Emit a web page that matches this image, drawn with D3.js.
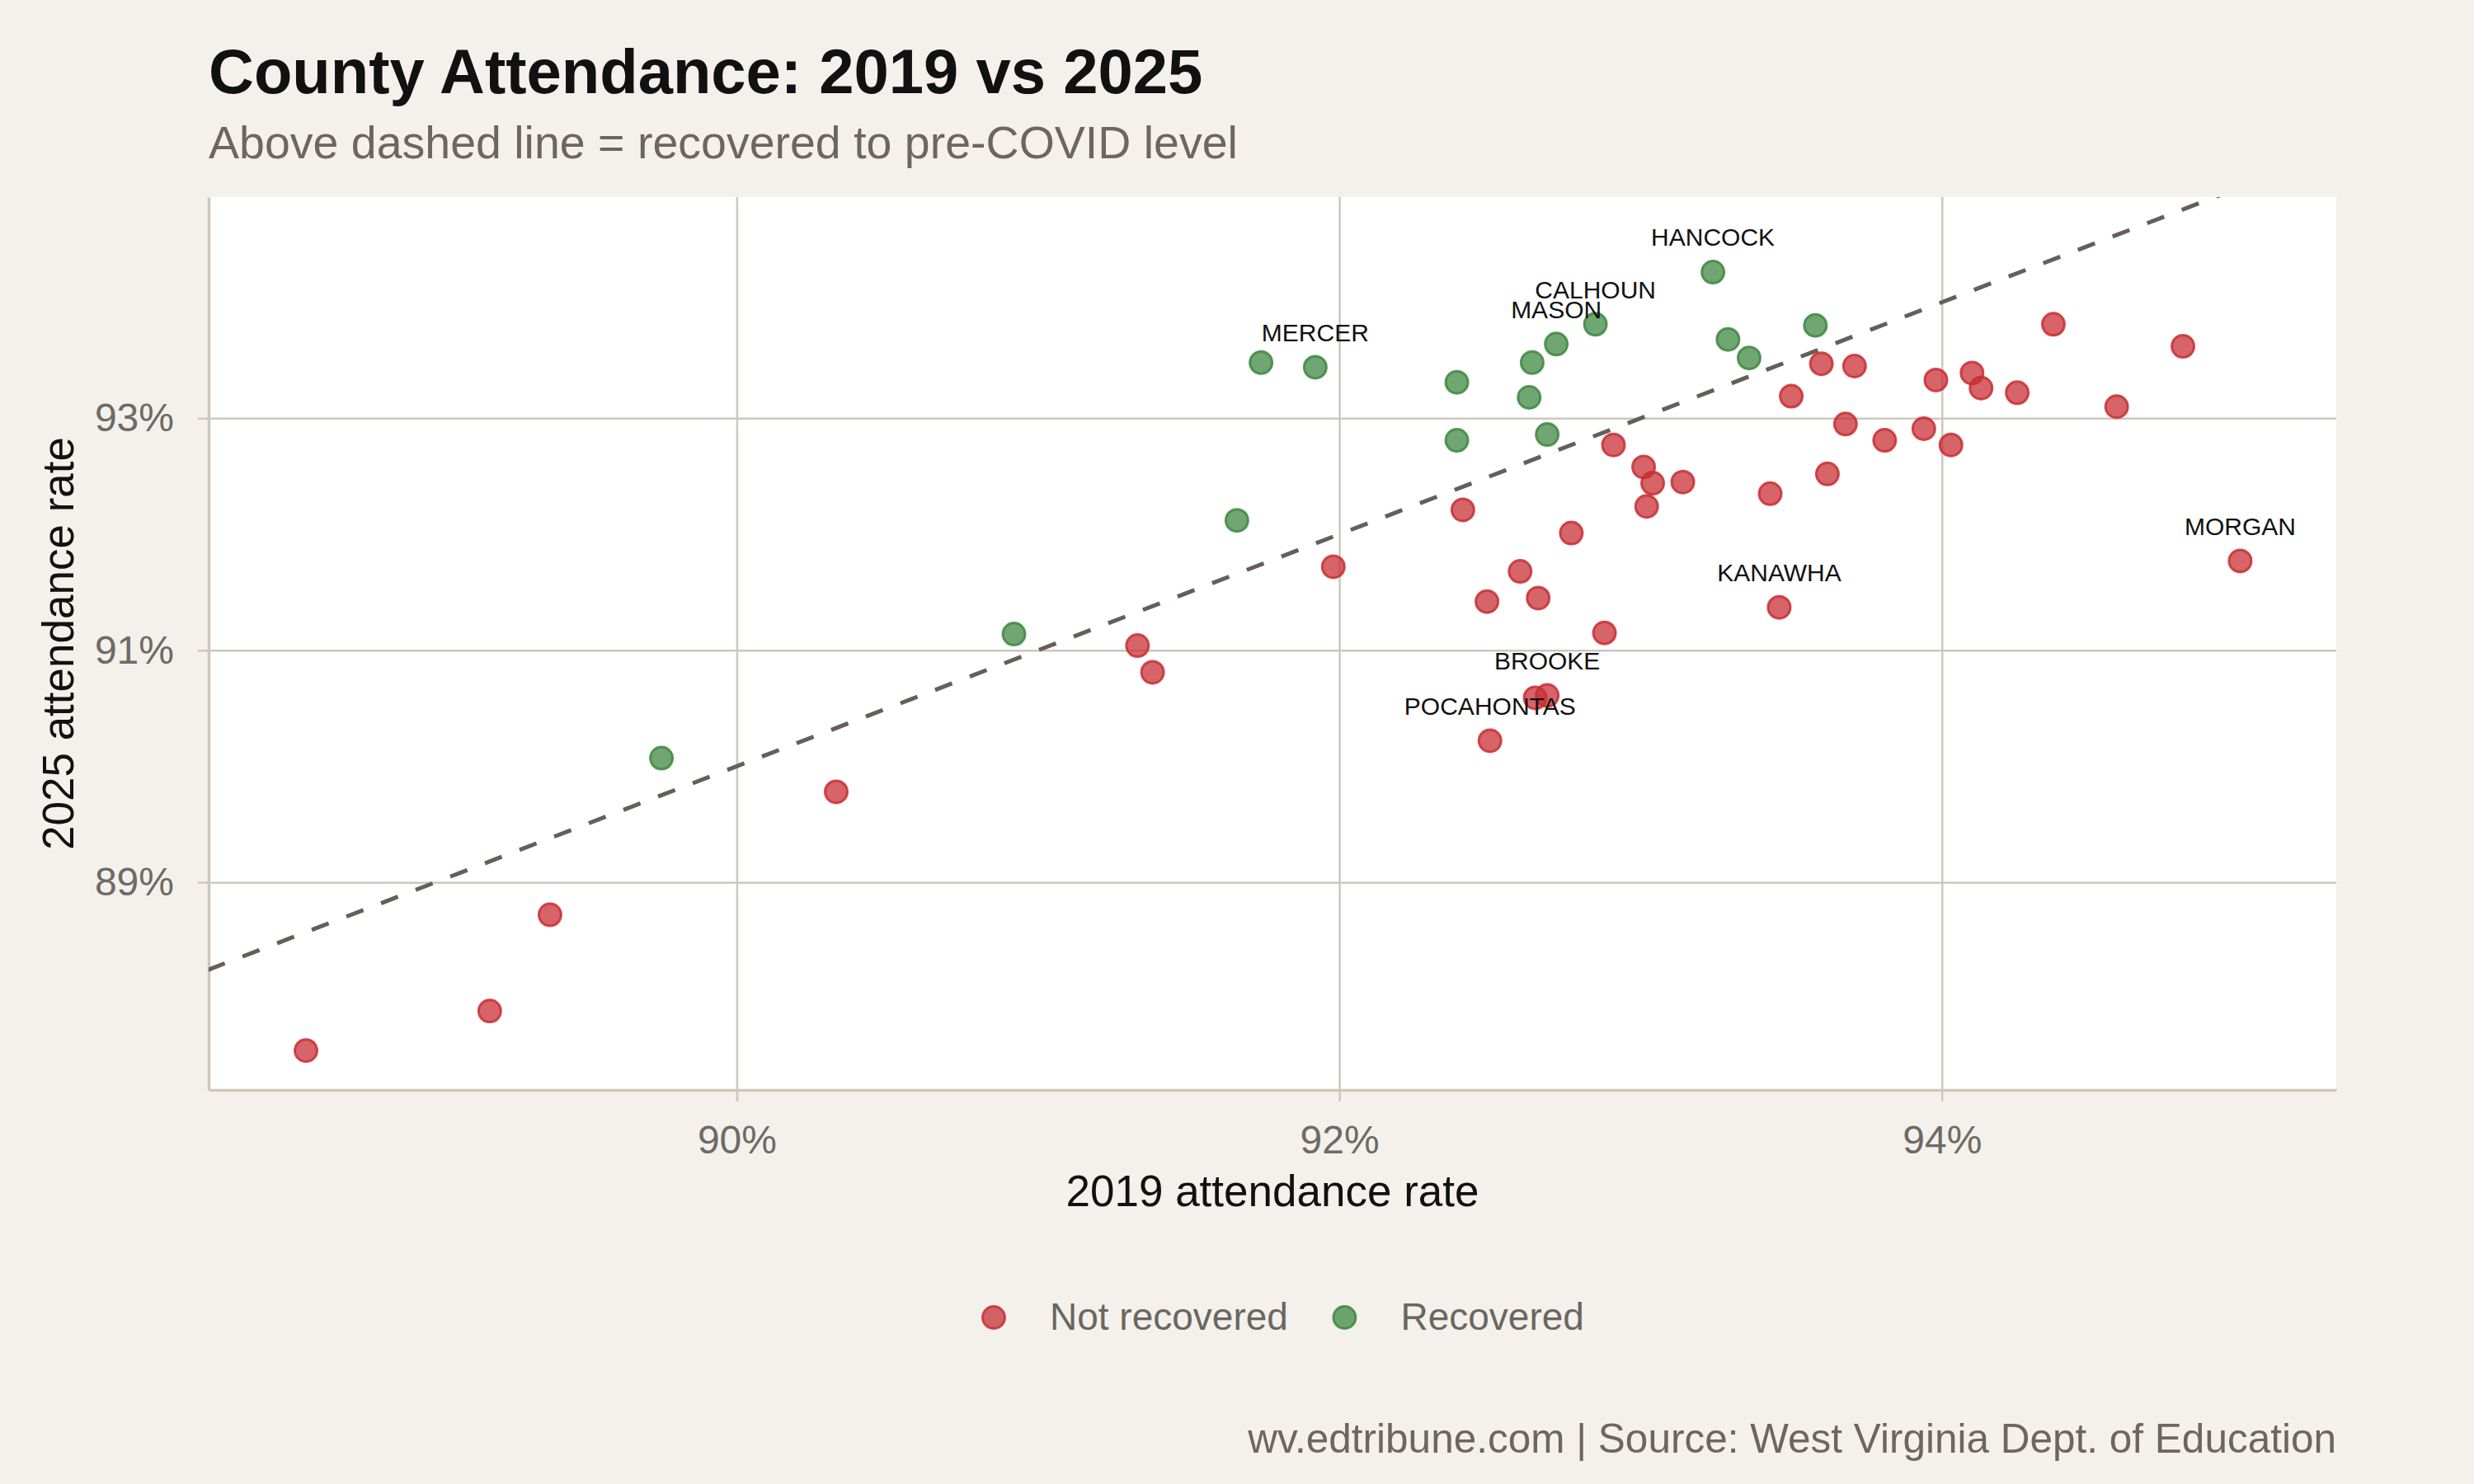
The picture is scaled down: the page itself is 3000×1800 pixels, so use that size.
<!DOCTYPE html>
<html>
<head>
<meta charset="utf-8">
<script src="https://cdn.jsdelivr.net/npm/d3@7"></script>
<style>
  body { margin: 0; background: #F4F1EC; }
  svg text { font-family: "Liberation Sans", Arial, Helvetica, sans-serif; }
</style>
</head>
<body>
<script>
const WIDTH = 3000;
const HEIGHT = 1800;
const MARGIN = {top: 239, right: 167, bottom: 478, left: 253};
const INNER_WIDTH = WIDTH - MARGIN.left - MARGIN.right;
const INNER_HEIGHT = HEIGHT - MARGIN.top - MARGIN.bottom;

// axis limits and ticks (percent)
const xDomain = [88.247, 95.309];
const yDomain = [87.21, 94.907];
const xTicks = [90, 92, 94];
const yTicks = [89, 91, 93];

// recovered counties (2025 rate at or above 2019 rate)
const recovered2019 = [89.75, 90.92, 91.66, 91.74, 91.92, 92.39, 92.39, 92.63, 92.64, 92.69, 92.72, 92.85, 93.24, 93.29, 93.36, 93.58];
const recovered2025 = [90.07, 91.14, 92.12, 93.48, 93.44, 93.31, 92.81, 93.18, 93.48, 92.86, 93.64, 93.81, 94.26, 93.68, 93.52, 93.80];
const recoveredNames = ["", "", "", "", "MERCER", "", "", "", "", "", "MASON", "CALHOUN", "HANCOCK", "", "", ""];

// counties still below their pre-COVID rate
const notRecovered2019 = [88.57, 89.18, 89.38, 90.33, 91.33, 91.38, 91.98, 92.41, 92.49, 92.60, 92.66, 92.50, 92.65, 92.69,
  92.77, 92.88, 92.91, 93.01, 93.04, 93.02, 93.14, 93.43, 93.46, 93.50, 93.60, 93.62, 93.68, 93.71, 93.81, 93.94,
  93.98, 94.03, 94.10, 94.13, 94.25, 94.37, 94.58, 94.80, 94.99];
const notRecovered2025 = [87.55, 87.89, 88.72, 89.78, 91.04, 90.81, 91.72, 92.21, 91.42, 91.68, 91.45, 90.22, 90.59, 90.61,
  92.01, 91.15, 92.77, 92.58, 92.44, 92.24, 92.45, 92.35, 91.37, 93.19, 93.47, 92.52, 92.95, 93.45, 92.81, 92.91,
  93.33, 92.77, 93.39, 93.26, 93.22, 93.81, 93.10, 93.62, 91.77];
const notRecoveredNames = ["", "", "", "", "", "", "", "", "", "", "", "POCAHONTAS", "", "BROOKE",
  "", "", "", "", "", "", "", "", "KANAWHA", "", "", "", "", "", "", "",
  "", "", "", "", "", "", "", "", "MORGAN"];

const groupNames = ["Not recovered", "Recovered"];
const groupColors = ["#C82E33", "#3E8740"];

const LABEL_NUDGE = 0.3;

var buildPoints = function(xs, ys, names, group){
	return xs.map(function(x, i){
		return {x: x, y: ys[i], name: names[i], group: group};
	});
};

var drawChart = function(){
	var points = buildPoints(notRecovered2019, notRecovered2025, notRecoveredNames, 0)
		.concat(buildPoints(recovered2019, recovered2025, recoveredNames, 1));

	var svg = d3.select('body')
		.append('svg')
		.attr('width', WIDTH)
		.attr('height', HEIGHT)
		.style('display', 'block');

	svg.append('rect')
		.attr('width', WIDTH)
		.attr('height', HEIGHT)
		.attr('fill', '#F4F1EC');

	var xScale = d3.scaleLinear().domain(xDomain).range([0, INNER_WIDTH]);
	var yScale = d3.scaleLinear().domain(yDomain).range([INNER_HEIGHT, 0]);
	var colour = d3.scaleOrdinal().domain([0, 1]).range(groupColors);

	var g = svg.append('g')
		.attr('transform', 'translate(' + MARGIN.left + ',' + MARGIN.top + ')');

	g.append('rect')
		.attr('width', INNER_WIDTH)
		.attr('height', INNER_HEIGHT)
		.attr('fill', '#FFFFFF');

	g.append('clipPath').attr('id', 'panel')
		.append('rect').attr('width', INNER_WIDTH).attr('height', INNER_HEIGHT);

	// grid lines
	g.append('g')
		.attr('class', 'grid')
		.attr('transform', 'translate(0,' + INNER_HEIGHT + ')')
		.call(d3.axisBottom(xScale).tickValues(xTicks).tickSize(INNER_HEIGHT).tickSizeOuter(0).tickFormat(''))
		.call(function(s){ s.select('.domain').remove(); })
		.selectAll('line').attr('transform', 'translate(0,' + (-INNER_HEIGHT) + ')');
	g.append('g')
		.attr('class', 'grid')
		.call(d3.axisRight(yScale).tickValues(yTicks).tickSize(INNER_WIDTH).tickSizeOuter(0).tickFormat(''))
		.call(function(s){ s.select('.domain').remove(); });
	g.selectAll('.grid line')
		.attr('stroke', '#CEC7BC')
		.attr('stroke-width', 2.5);

	// axes
	var xAxis = g.append('g')
		.attr('transform', 'translate(0,' + INNER_HEIGHT + ')')
		.call(d3.axisBottom(xScale).tickValues(xTicks).tickSize(14).tickSizeOuter(0).tickPadding(29)
			.tickFormat(function(d){ return d + '%'; }));
	var yAxis = g.append('g')
		.call(d3.axisLeft(yScale).tickValues(yTicks).tickSize(13).tickSizeOuter(0).tickPadding(29)
			.tickFormat(function(d){ return d + '%'; }));
	[xAxis, yAxis].forEach(function(ax){
		ax.select('.domain').attr('stroke', '#CEC7BC').attr('stroke-width', 3.5);
		ax.selectAll('.tick line').attr('stroke', '#CEC7BC').attr('stroke-width', 2.5);
		ax.selectAll('.tick text')
			.attr('fill', '#6E6A64')
			.style('font-size', '48px')
			.style('font-family', '"Liberation Sans", Arial, sans-serif');
	});

	// parity line y = x
	var parity = d3.line()
		.x(function(d){ return xScale(d); })
		.y(function(d){ return yScale(d); });
	g.append('path')
		.attr('clip-path', 'url(#panel)')
		.attr('d', parity([Math.min(xDomain[0], yDomain[0]), Math.max(xDomain[1], yDomain[1])]))
		.attr('fill', 'none')
		.attr('stroke', '#645F59')
		.attr('stroke-width', 5)
		.attr('stroke-dasharray', '22,23');

	// points
	g.append('g')
		.selectAll('circle')
		.data(points)
		.enter()
		.append('circle')
		.attr('cx', function(d){ return xScale(d.x); })
		.attr('cy', function(d){ return yScale(d.y); })
		.attr('r', 13.5)
		.attr('fill', function(d){ return colour(d.group); })
		.attr('fill-opacity', 0.74)
		.attr('stroke', function(d){ return colour(d.group); })
		.attr('stroke-opacity', 0.85)
		.attr('stroke-width', 3);

	// county labels
	g.append('g')
		.selectAll('text')
		.data(points.filter(function(d){ return d.name; }))
		.enter()
		.append('text')
		.attr('x', function(d){ return xScale(d.x); })
		.attr('y', function(d){ return yScale(d.y + LABEL_NUDGE); })
		.attr('dy', '0.35em')
		.attr('text-anchor', 'middle')
		.attr('fill', '#111111')
		.style('font-size', '30px')
		.text(function(d){ return d.name; });

	// titles
	svg.append('text')
		.attr('x', MARGIN.left).attr('y', 113)
		.attr('fill', '#111111')
		.style('font-size', '76px').style('font-weight', 'bold')
		.text('County Attendance: 2019 vs 2025');
	svg.append('text')
		.attr('x', MARGIN.left).attr('y', 192)
		.attr('fill', '#6B665F')
		.style('font-size', '55.5px')
		.text('Above dashed line = recovered to pre-COVID level');

	svg.append('text')
		.attr('x', MARGIN.left + INNER_WIDTH / 2).attr('y', 1463)
		.attr('text-anchor', 'middle')
		.attr('fill', '#111111')
		.style('font-size', '53px')
		.text('2019 attendance rate');
	svg.append('text')
		.attr('transform', 'translate(89,' + (MARGIN.top + INNER_HEIGHT / 2) + ') rotate(-90)')
		.attr('text-anchor', 'middle')
		.attr('fill', '#111111')
		.style('font-size', '53px')
		.text('2025 attendance rate');

	// legend
	var legend = svg.append('g').attr('transform', 'translate(1205,1598)');
	var offset = 0;
	groupNames.forEach(function(name, i){
		var item = legend.append('g').attr('transform', 'translate(' + offset + ',0)');
		item.append('circle')
			.attr('r', 13.5)
			.attr('fill', colour(i)).attr('fill-opacity', 0.74)
			.attr('stroke', colour(i)).attr('stroke-opacity', 0.85)
			.attr('stroke-width', 3);
		var label = item.append('text')
			.attr('x', 68).attr('y', 15)
			.attr('fill', '#6B665F')
			.style('font-size', '46px')
			.text(name);
		offset += 68 + label.node().getComputedTextLength() + 68.5;
	});

	svg.append('text')
		.attr('x', MARGIN.left + INNER_WIDTH).attr('y', 1762)
		.attr('text-anchor', 'end')
		.attr('fill', '#6B665F')
		.style('font-size', '49.5px')
		.text('wv.edtribune.com | Source: West Virginia Dept. of Education');
};

window.onload = function(){
	drawChart();
};
</script>
</body>
</html>
